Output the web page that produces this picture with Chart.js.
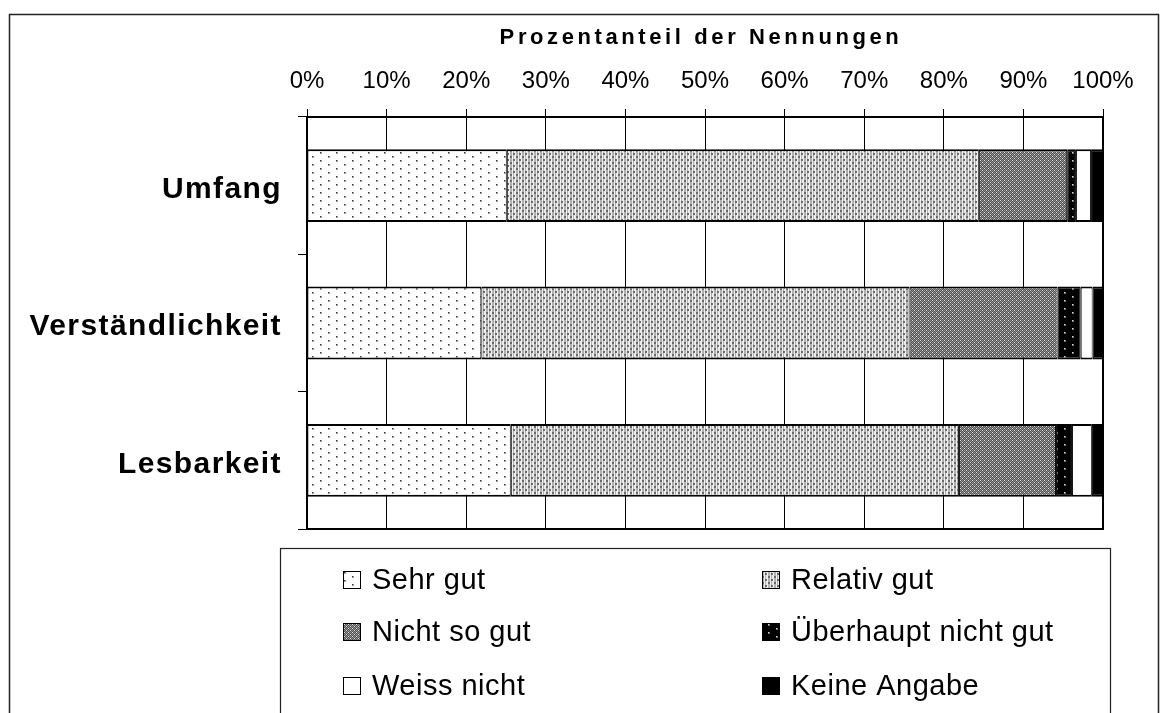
<!DOCTYPE html>
<html><head><meta charset="utf-8">
<script src="https://cdn.jsdelivr.net/npm/chart.js@4/dist/chart.umd.min.js"></script>
<style>html,body{margin:0;padding:0;background:#fff;}#wrap{width:1168px;height:713px;position:relative;}</style>
</head><body><div id="wrap"><canvas id="c" width="1168" height="713"></canvas></div>
<script>
const categories = ['Umfang', 'Verständlichkeit', 'Lesbarkeit'];
const seriesNames = ['Sehr gut', 'Relativ gut', 'Nicht so gut', 'Überhaupt nicht gut', 'Weiss nicht', 'Keine Angabe'];
const sehrGut = [25.1, 21.9, 25.6];
const relativGut = [59.3, 53.8, 56.3];
const nichtSoGut = [11.1, 18.6, 12.2];
const ueberhauptNichtGut = [1.1, 2.9, 2.0];
const weissNicht = [1.9, 1.5, 2.5];
const keineAngabe = [1.5, 1.3, 1.4];
const tickLabels = ['0%', '10%', '20%', '30%', '40%', '50%', '60%', '70%', '80%', '90%', '100%'];
const axisTitle = 'Prozentanteil der Nennungen';

const FONT = '"Liberation Sans", Arial, sans-serif';

function makePattern(w, h, draw) {
  const c = document.createElement('canvas');
  c.width = w; c.height = h;
  const g = c.getContext('2d');
  draw(g);
  return document.getElementById('c').getContext('2d').createPattern(c, 'repeat');
}
const patSehr = makePattern(16, 8, g => {
  g.fillStyle = '#fff'; g.fillRect(0, 0, 16, 8);
  g.fillStyle = '#999'; g.fillRect(0, 0, 2, 2); g.fillRect(8, 4, 2, 2);
  g.fillStyle = '#333'; g.fillRect(0, 0, 1, 1); g.fillRect(8, 4, 1, 1);
});
const patRelativ = makePattern(6, 6, g => {
  g.fillStyle = '#ececec'; g.fillRect(0, 0, 6, 6);
  g.fillStyle = '#b0b0b0'; g.fillRect(0, 0, 2, 6); g.fillRect(3, 0, 1, 6);
  g.fillStyle = '#6a6a6a'; g.fillRect(0, 0, 2, 2); g.fillRect(3, 3, 2, 2);
  g.fillStyle = '#ffffff'; g.fillRect(2, 1, 1, 1); g.fillRect(5, 4, 1, 1);
});
const patNicht = makePattern(4, 4, g => {
  g.fillStyle = '#949494'; g.fillRect(0, 0, 4, 4);
  g.fillStyle = '#4e4e4e';
  for (let y = 0; y < 4; y++) for (let x = 0; x < 4; x++) if ((x + y) % 2 === 1) g.fillRect(x, y, 1, 1);
  g.fillStyle = '#e6e6e6'; g.fillRect(0, 0, 1, 1); g.fillRect(2, 2, 1, 1);
});
const patUeber = makePattern(16, 8, g => {
  g.fillStyle = '#000'; g.fillRect(0, 0, 16, 8);
  g.fillStyle = '#777'; g.fillRect(0, 0, 2, 2); g.fillRect(8, 4, 2, 2);
  g.fillStyle = '#ddd'; g.fillRect(0, 0, 1, 1); g.fillRect(8, 4, 1, 1);
});
const fills = [patSehr, patRelativ, patNicht, patUeber, '#ffffff', '#000000'];
const seriesValues = [sehrGut, relativGut, nichtSoGut, ueberhauptNichtGut, weissNicht, keineAngabe];

const datasets = seriesNames.map((name, i) => ({
  label: name,
  data: seriesValues[i],
  backgroundColor: fills[i],
  borderColor: '#000',
  borderWidth: { top: 2, bottom: 2, left: 1, right: 1 },
  borderSkipped: false,
  barPercentage: 0.53,
  categoryPercentage: 1.0
}));

const decor = {
  id: 'decor',
  afterDraw(chart) {
    const ctx = chart.ctx;
    const a = chart.chartArea;
    ctx.save();
    // outer frame
    ctx.strokeStyle = '#222'; ctx.lineWidth = 1.5;
    ctx.strokeRect(9.5, 14.5, 1149, 720);
    // plot frame
    ctx.strokeStyle = '#000'; ctx.lineWidth = 2;
    ctx.strokeRect(a.left, a.top, a.right - a.left, a.bottom - a.top);
    // axis title
    ctx.fillStyle = '#000';
    ctx.font = 'bold 22px ' + FONT;
    ctx.letterSpacing = '3.6px';
    ctx.textAlign = 'center'; ctx.textBaseline = 'middle';
    ctx.fillText(axisTitle, 701, 38);
    // category labels
    const ys = chart.scales.y;
    ctx.font = 'bold 30px ' + FONT;
    ctx.letterSpacing = '1.4px';
    ctx.textAlign = 'right';
    categories.forEach((c, i) => ctx.fillText(c, 282, ys.getPixelForValue(i) + 4));
    // legend box
    ctx.letterSpacing = '0px';
    ctx.strokeStyle = '#222'; ctx.lineWidth = 1.2;
    ctx.strokeRect(280.5, 548.5, 830, 200);
    const cols = [343, 762];
    const rows = [580, 632, 686];
    ctx.font = '29px ' + FONT;
    ctx.letterSpacing = '0.5px';
    ctx.textAlign = 'left';
    chart.data.datasets.forEach((ds, i) => {
      const x = cols[i % 2], y = rows[Math.floor(i / 2)];
      ctx.fillStyle = ds.backgroundColor;
      ctx.fillRect(x, y - 9, 18, 18);
      ctx.strokeStyle = '#000'; ctx.lineWidth = 1;
      ctx.strokeRect(x + 0.5, y - 8.5, 17, 17);
      ctx.fillStyle = '#000';
      ctx.fillText(ds.label, x + 29, y + 1);
    });
    ctx.restore();
  }
};

new Chart(document.getElementById('c'), {
  type: 'bar',
  data: { labels: categories, datasets },
  options: {
    indexAxis: 'y',
    responsive: false,
    animation: false,
    devicePixelRatio: 1,
    layout: { padding: { left: 0, right: 65, top: 0, bottom: 184 } },
    plugins: { legend: { display: false }, title: { display: false }, tooltip: { enabled: false } },
    scales: {
      x: {
        position: 'top',
        stacked: true,
        min: 0, max: 100,
        afterFit(s) { s.height = 117; },
        ticks: {
          stepSize: 10,
          color: '#000',
          font: { family: FONT, size: 24 },
          padding: 13,
          maxRotation: 0,
          autoSkip: false,
          callback: (v, i) => tickLabels[i]
        },
        grid: { color: '#000', lineWidth: 1, tickLength: 8, drawOnChartArea: true },
        border: { color: '#000', width: 2 }
      },
      y: {
        stacked: true,
        afterFit(s) { s.width = 307; },
        ticks: { display: false },
        grid: { color: '#000', lineWidth: 1, tickLength: 9, drawOnChartArea: false, offset: true },
        border: { color: '#000', width: 2 }
      }
    }
  },
  plugins: [decor]
});
</script></body></html>
